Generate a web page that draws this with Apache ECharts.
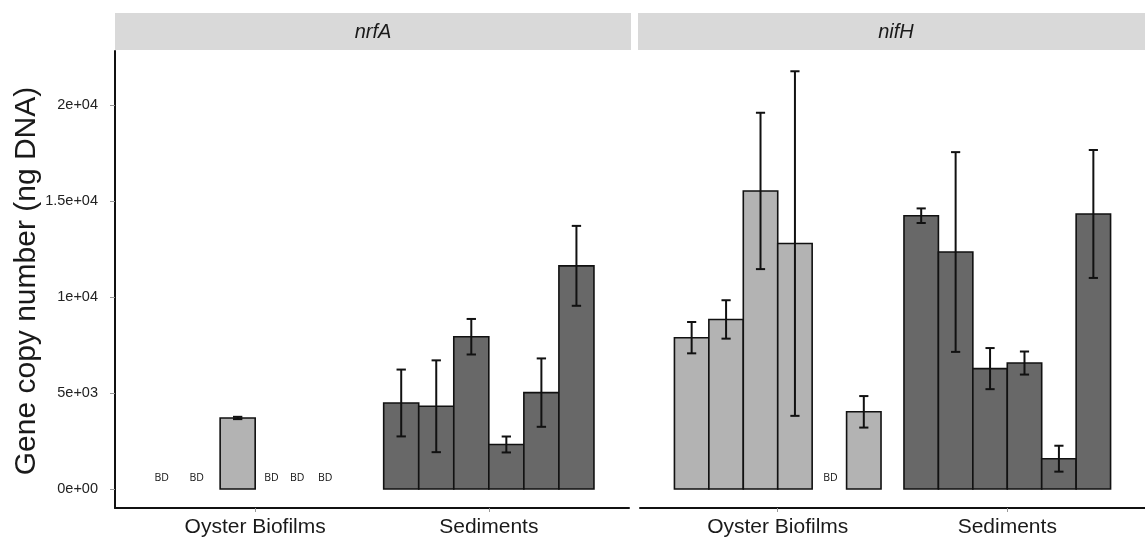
<!DOCTYPE html>
<html>
<head>
<meta charset="utf-8">
<script src="https://cdn.jsdelivr.net/npm/echarts@6/dist/echarts.min.js"></script>
<style>
  html, body { margin: 0; padding: 0; background: #fff; }
  #chart { width: 1145px; height: 538px; }
</style>
</head>
<body>
<div id="chart"></div>
<script>
const genes = ['nrfA', 'nifH']
const groups = ['Oyster Biofilms', 'Sediments']
const yTicks = [0, 5000, 10000, 15000, 20000]
const yTickLabels = ['0e+00', '5e+03', '1e+04', '1.5e+04', '2e+04']

// six samples per group, null = below detection (BD)
const nrfAOyster = [null, null, 3700, null, null, null]
const nrfAOysterSE = [null, null, 60, null, null, null]
const nrfASed = [4480, 4310, 7930, 2320, 5020, 11620]
const nrfASedSE = [1740, 2390, 925, 415, 1780, 2080]

const nifHOyster = [7880, 8830, 15520, 12780, null, 4020]
const nifHOysterSE = [815, 1000, 4070, 8970, null, 820]
const nifHSed = [14230, 12340, 6270, 6560, 1580, 14320]
const nifHSedSE = [380, 5200, 1070, 600, 675, 3330]

// where the BD labels sit on the x scale (group 1 centred at 1)
const nrfABD = [0.60, 0.75, 1.07, 1.18, 1.30]
const nifHBD = [1.23]
const bdLevel = 600

const BAR_W = 0.15
const CAP = 0.02
const LIGHT = '#b3b3b3'
const DARK = '#686868'

function panelData(oyster, oysterSE, sed, sedSE) {
  const out = []
  ;[[oyster, oysterSE], [sed, sedSE]].forEach(([vals, ses], g) => {
    vals.forEach((v, i) => {
      if (v == null) return
      out.push([g + 1 + (i - 2.5) * BAR_W, v, ses[i], g])
    })
  })
  return out
}

const panels = [
  { bars: panelData(nrfAOyster, nrfAOysterSE, nrfASed, nrfASedSE), bd: nrfABD },
  { bars: panelData(nifHOyster, nifHOysterSE, nifHSed, nifHSedSE), bd: nifHBD }
]

function renderBar(params, api) {
  const x = api.value(0)
  const tl = api.coord([x - BAR_W / 2, api.value(1)])
  const br = api.coord([x + BAR_W / 2, 0])
  return {
    type: 'rect',
    shape: { x: tl[0], y: tl[1], width: br[0] - tl[0], height: br[1] - tl[1] },
    style: { fill: api.value(3) ? DARK : LIGHT, stroke: '#111', lineWidth: 1.6 }
  }
}

function renderErr(params, api) {
  const x = api.value(0), v = api.value(1), e = api.value(2)
  const hi = api.coord([x, v + e])
  const lo = api.coord([x, v - e])
  const l = api.coord([x - CAP, 0])[0]
  const r = api.coord([x + CAP, 0])[0]
  const st = { stroke: '#111', lineWidth: 2 }
  return {
    type: 'group',
    children: [
      { type: 'line', shape: { x1: hi[0], y1: hi[1], x2: lo[0], y2: lo[1] }, style: st },
      { type: 'line', shape: { x1: l, y1: hi[1], x2: r, y2: hi[1] }, style: st },
      { type: 'line', shape: { x1: l, y1: lo[1], x2: r, y2: lo[1] }, style: st }
    ]
  }
}

function renderBD(params, api) {
  const p = api.coord([api.value(0), api.value(1)])
  return {
    type: 'text',
    x: p[0], y: p[1],
    style: {
      text: 'BD', align: 'center', verticalAlign: 'middle',
      fontSize: 10.5, fontFamily: 'Open Sans', fill: '#111'
    }
  }
}

const chart = echarts.init(document.getElementById('chart'))

const gridLefts = [115, 640]
const option = {
  animation: false,
  grid: gridLefts.map(left => ({ left, top: 51, width: 514, height: 458 })),
  xAxis: gridLefts.map((_, i) => ({
    type: 'value', gridIndex: i, min: 0.4, max: 2.6,
    splitLine: { show: false },
    axisLine: { onZero: false, lineStyle: { color: '#111', width: 2 } },
    axisTick: { customValues: [1, 2], length: 4, lineStyle: { color: '#999' } },
    axisLabel: {
      customValues: [1, 2],
      formatter: v => groups[Math.round(v) - 1],
      margin: 9, fontSize: 21, fontFamily: 'Liberation Sans', color: '#1a1a1a'
    }
  })),
  yAxis: gridLefts.map((_, i) => ({
    type: 'value', gridIndex: i, min: -987, max: 22805, show: i === 0,
    splitLine: { show: false },
    axisLine: { show: true, onZero: false, lineStyle: { color: '#111', width: 2 } },
    axisTick: { customValues: yTicks, length: 5, lineStyle: { color: '#999' } },
    axisLabel: {
      customValues: yTicks,
      formatter: v => yTickLabels[yTicks.indexOf(v)],
      margin: 17, fontSize: 14.5, fontFamily: 'Liberation Sans', color: '#222'
    }
  })),
  series: panels.flatMap((p, i) => [
    { type: 'custom', xAxisIndex: i, yAxisIndex: i, data: p.bars, renderItem: renderBar, clip: false },
    { type: 'custom', xAxisIndex: i, yAxisIndex: i, data: p.bars, renderItem: renderErr, clip: false },
    { type: 'custom', xAxisIndex: i, yAxisIndex: i, data: p.bd.map(x => [x, bdLevel]), renderItem: renderBD, clip: false }
  ]),
  graphic: [
    { type: 'rect', shape: { x: 115, y: 13, width: 516, height: 37 }, style: { fill: '#d9d9d9' } },
    { type: 'rect', shape: { x: 638, y: 13, width: 520, height: 37 }, style: { fill: '#d9d9d9' } },
    {
      type: 'text', x: 373, y: 32,
      style: { text: genes[0], align: 'center', verticalAlign: 'middle', fontSize: 20, fontStyle: 'italic', fontFamily: 'Liberation Sans', fill: '#1a1a1a' }
    },
    {
      type: 'text', x: 896, y: 32,
      style: { text: genes[1], align: 'center', verticalAlign: 'middle', fontSize: 20, fontStyle: 'italic', fontFamily: 'Liberation Sans', fill: '#1a1a1a' }
    },
    {
      type: 'text', x: 27, y: 281, rotation: Math.PI / 2,
      style: { text: 'Gene copy number (ng DNA)', align: 'center', verticalAlign: 'middle', fontSize: 30, fontFamily: 'Liberation Sans', fill: '#1a1a1a' }
    }
  ]
}

chart.setOption(option)
</script>
</body>
</html>
